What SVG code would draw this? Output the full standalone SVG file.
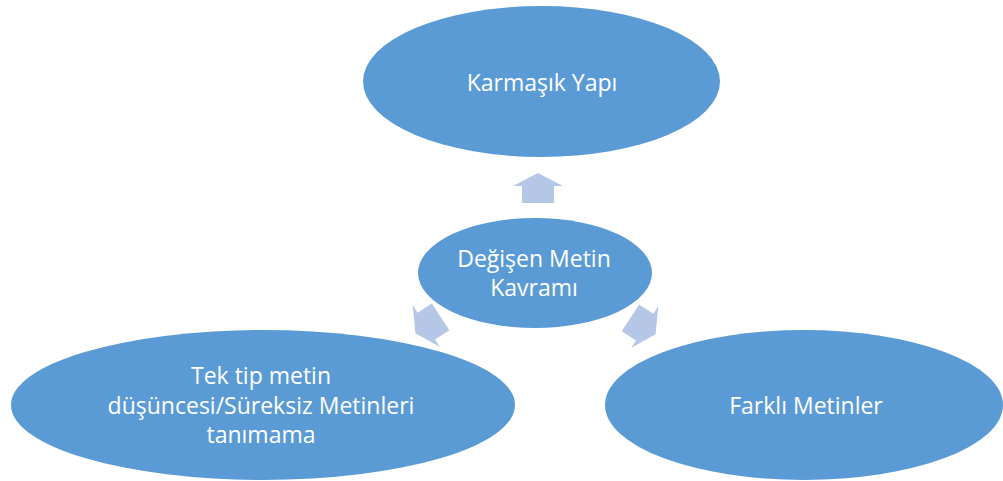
<svg xmlns="http://www.w3.org/2000/svg" xmlns:xlink="http://www.w3.org/1999/xlink" width="1003" height="481" viewBox="0 0 1003 481">
<style>
.node{fill:#5B9BD5;}
.lbl{fill:#FFFFFF;font-family:"Open Sans","Liberation Sans",sans-serif;font-size:23px;text-anchor:middle;}
.arr{fill:#B4C7E7;}
</style>
<defs>
<path id="blk" d="M0,-15 L25,-2 L16,-2 L16,15 L-16,15 L-16,-2 L-25,-2 Z"/>
</defs>
<rect width="1003" height="481" fill="#FFFFFF"/>
<g id="connectors">
<use xlink:href="#blk" class="arr" transform="translate(538,188)"/>
<use xlink:href="#blk" class="arr" transform="translate(428,325) rotate(-123)"/>
<use xlink:href="#blk" class="arr" transform="translate(643,326) rotate(123)"/>
</g>
<g id="top">
<ellipse class="node" cx="541.5" cy="81.5" rx="178.5" ry="75.5"/>
<text class="lbl" x="542" y="91">Karmaşık Yapı</text>
</g>
<g id="center">
<ellipse class="node" cx="535" cy="273" rx="117" ry="55"/>
<text class="lbl" x="534" y="267">Değişen Metin</text>
<text class="lbl" x="534" y="296">Kavramı</text>
</g>
<g id="left">
<ellipse class="node" cx="263" cy="405" rx="252" ry="75"/>
<text class="lbl" x="261" y="384">Tek tip metin</text>
<text class="lbl" x="261" y="414">düşüncesi/Süreksiz Metinleri</text>
<text class="lbl" x="261" y="443">tanımama</text>
</g>
<g id="right">
<ellipse class="node" cx="804" cy="405" rx="199" ry="75"/>
<text class="lbl" x="806" y="414">Farklı Metinler</text>
</g>
</svg>
